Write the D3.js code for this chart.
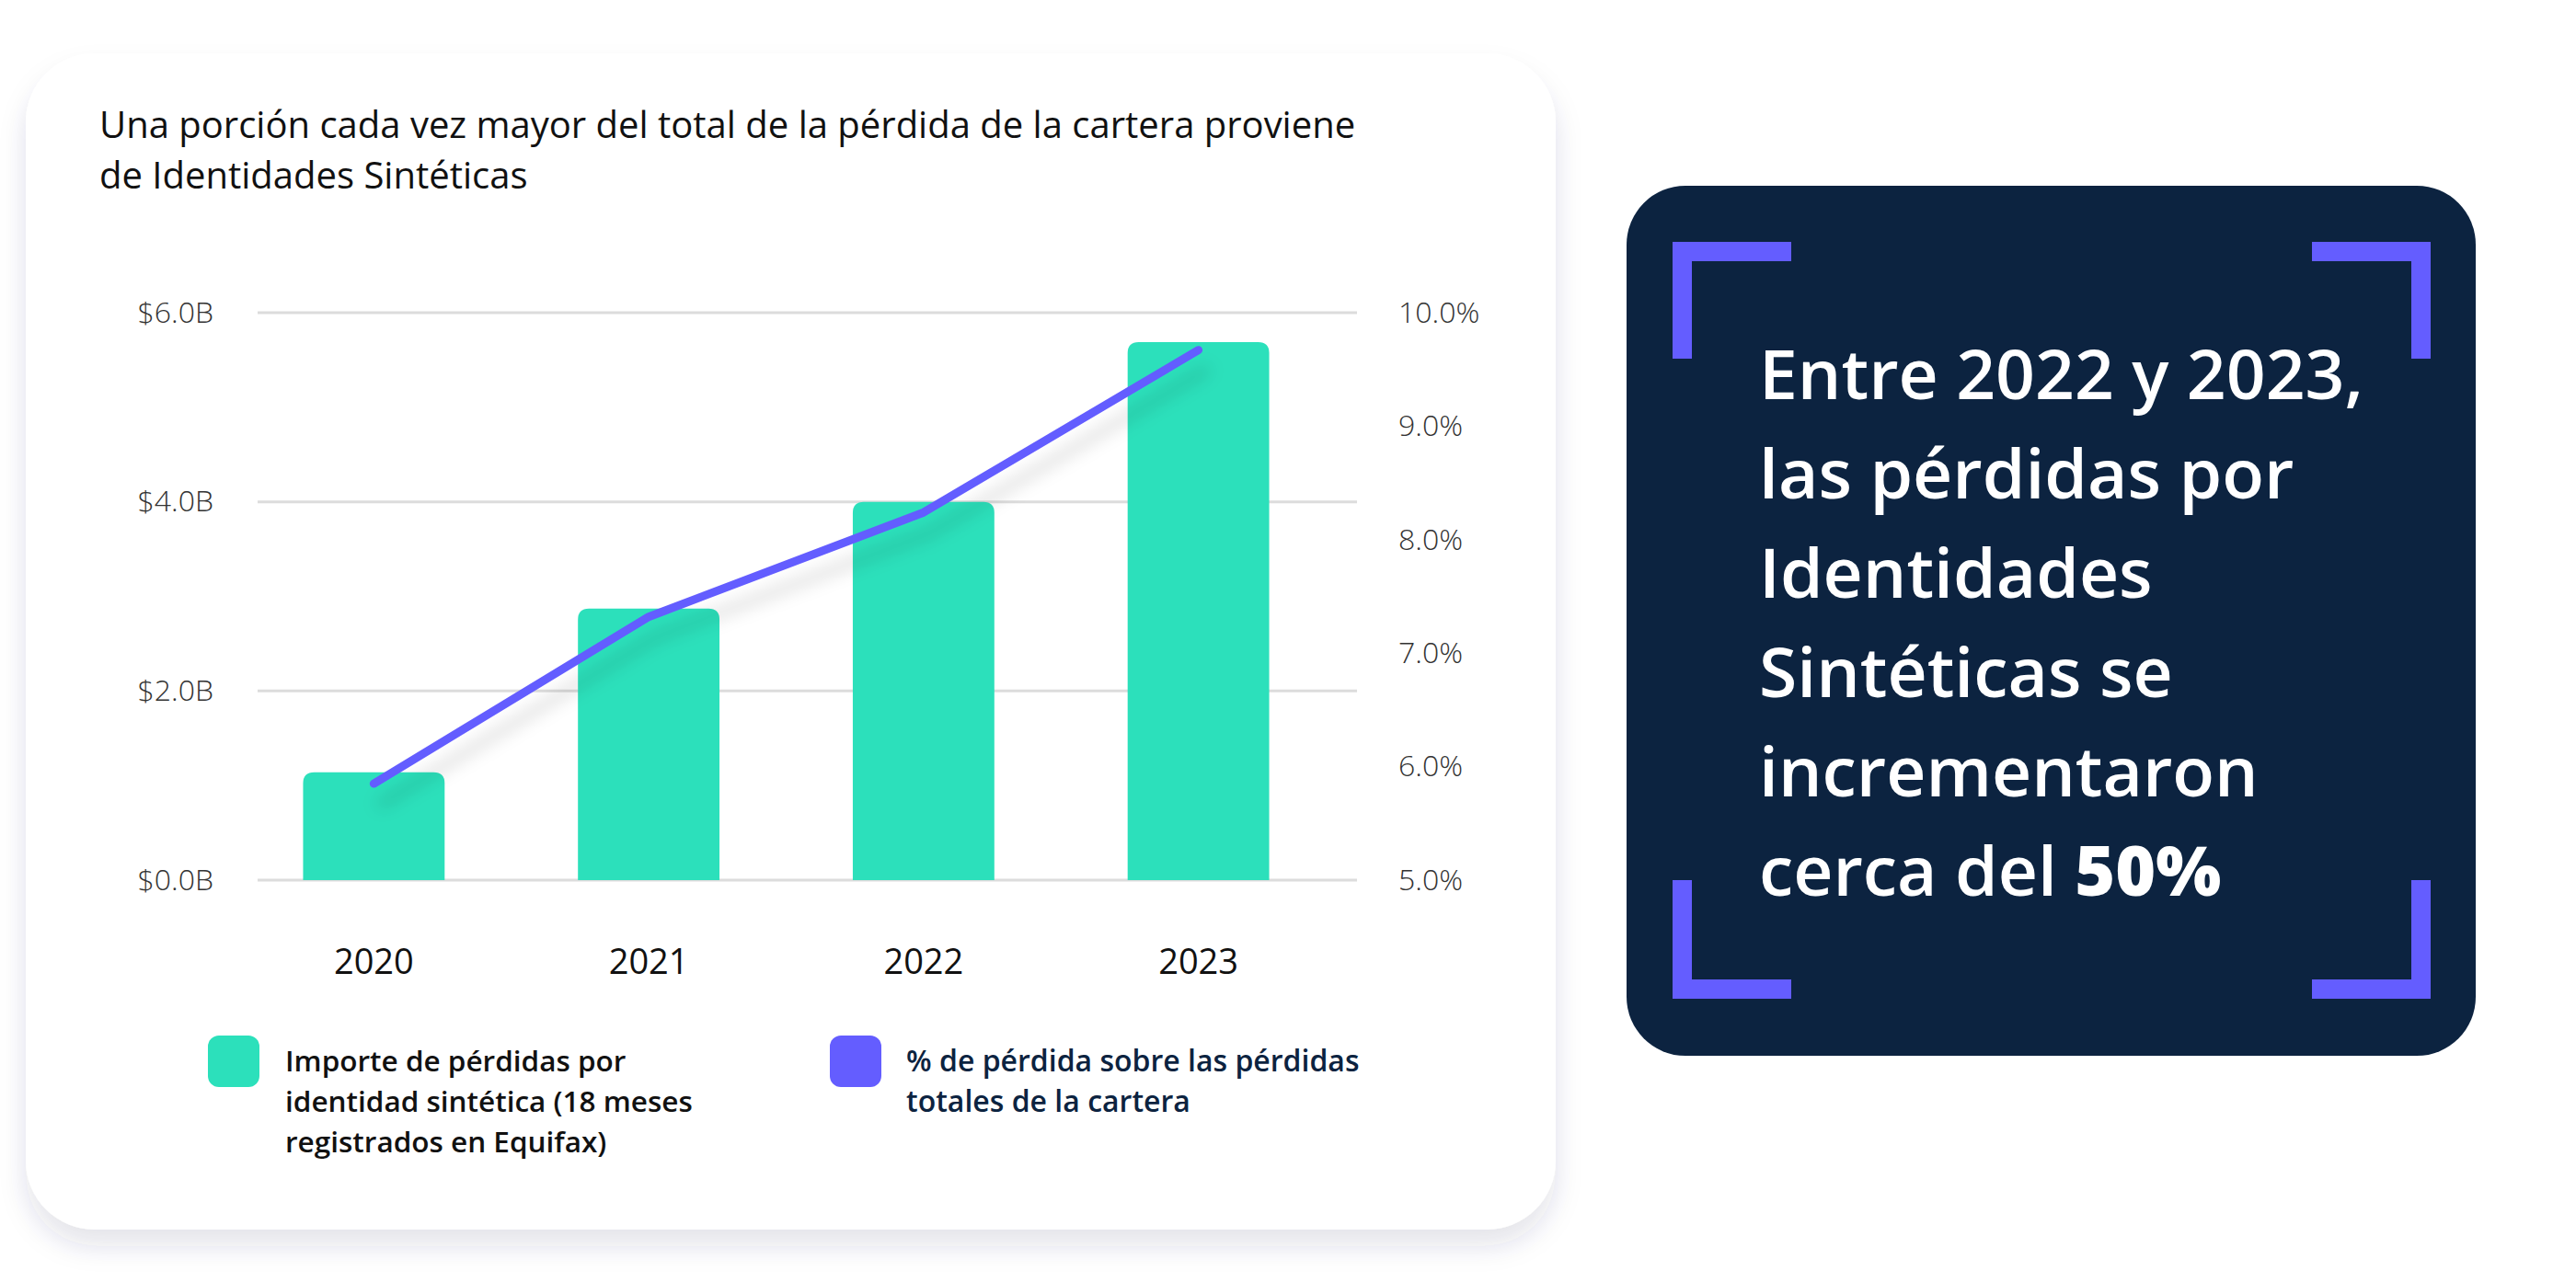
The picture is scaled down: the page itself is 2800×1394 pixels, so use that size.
<!DOCTYPE html>
<html>
<head>
<meta charset="utf-8">
<script src="https://cdn.jsdelivr.net/npm/d3@7"></script>
<style>
  html, body { margin: 0; padding: 0; background: #ffffff; }
  svg { display: block; font-family: "Open Sans", "Noto Sans", sans-serif; }
</style>
</head>
<body>
<svg id="chart" width="2800" height="1394"></svg>
<script>
// ---- data ----
const years = ["2020", "2021", "2022", "2023"];
const lossAmountB = [1.14, 2.87, 4.0, 5.69];
const lossSharePct = [5.85, 7.32, 8.24, 9.67];
const leftTicks = [0, 2, 4, 6];
const rightTicks = [5, 6, 7, 8, 9, 10];
const titleLines = ["Una porción cada vez mayor del total de la pérdida de la cartera proviene", "de Identidades Sintéticas"];
const legendBarLines = ["Importe de pérdidas por", "identidad sintética (18 meses", "registrados en Equifax)"];
const legendLineLines = ["% de pérdida sobre las pérdidas", "totales de la cartera"];
const calloutLines = ["Entre 2022 y 2023,", "las pérdidas por", "Identidades", "Sintéticas se", "incrementaron"];
const calloutLast = ["cerca del ", "50%"];

const GREEN = "#2ce0bb", PURPLE = "#645dff", NAVY = "#0c2340";

const svg = d3.select("#chart");
const defs = svg.append("defs");
const cs = defs.append("filter").attr("id", "cardShadow").attr("x", "-10%").attr("y", "-10%").attr("width", "120%").attr("height", "130%");
cs.append("feDropShadow").attr("dx", 0).attr("dy", 18).attr("stdDeviation", 14).attr("flood-color", "#2a3560").attr("flood-opacity", 0.13);
const ls = defs.append("filter").attr("id", "lineShadow").attr("x", "-20%").attr("y", "-20%").attr("width", "140%").attr("height", "160%");
ls.append("feDropShadow").attr("dx", 8).attr("dy", 22).attr("stdDeviation", 9).attr("flood-color", "#000").attr("flood-opacity", 0.15);

// ---- card ----
svg.append("rect").attr("x", 28).attr("y", 58).attr("width", 1663).attr("height", 1279)
  .attr("rx", 75).attr("fill", "#fff").attr("filter", "url(#cardShadow)");

// ---- title ----
const title = svg.append("text").attr("x", 108).attr("y", 150).attr("font-size", 40).attr("fill", "#111");
titleLines.forEach((t, i) => title.append("tspan").attr("x", 108).attr("y", 150 + i * 55).text(t));

// ---- scales ----
const x = d3.scaleBand().domain(years).range([257, 1452]).paddingInner(0.485).paddingOuter(0.2425);
const yL = d3.scaleLinear().domain([0, 6]).range([957, 340]);
const yR = d3.scaleLinear().domain([5, 10]).range([957, 340]);

// gridlines
svg.append("g").selectAll("line").data(leftTicks).join("line")
  .attr("x1", 280).attr("x2", 1475).attr("y1", d => yL(d)).attr("y2", d => yL(d))
  .attr("stroke", "#dcdcdc").attr("stroke-width", 3);

// left axis
const gL = svg.append("g").attr("transform", "translate(280,0)")
  .call(d3.axisLeft(yL).tickValues(leftTicks).tickSize(0).tickPadding(48).tickFormat(d => "$" + d.toFixed(1) + "B"));
gL.select(".domain").remove();
gL.selectAll("text").attr("font-size", 32).attr("font-weight", 300).attr("fill", "#333").attr("font-family", "'Open Sans', sans-serif");

// right axis
const gR = svg.append("g").attr("transform", "translate(1475,0)")
  .call(d3.axisRight(yR).tickValues(rightTicks).tickSize(0).tickPadding(45).tickFormat(d => d.toFixed(1) + "%"));
gR.select(".domain").remove();
gR.selectAll("text").attr("font-size", 32).attr("font-weight", 300).attr("fill", "#333").attr("font-family", "'Open Sans', sans-serif");

// bars with rounded top corners
const r = 12;
const barPath = (x0, w, yTop, yBase) =>
  `M${x0},${yBase}V${yTop + r}Q${x0},${yTop} ${x0 + r},${yTop}H${x0 + w - r}Q${x0 + w},${yTop} ${x0 + w},${yTop + r}V${yBase}Z`;
svg.append("g").selectAll("path").data(years).join("path")
  .attr("d", (d, i) => barPath(x(d), x.bandwidth(), yL(lossAmountB[i]), yL(0)))
  .attr("fill", GREEN);

// x labels
svg.append("g").selectAll("text").data(years).join("text")
  .attr("x", d => x(d) + x.bandwidth() / 2).attr("y", 1059)
  .attr("text-anchor", "middle").attr("font-size", 38).attr("fill", "#111").text(d => d);

// line
const line = d3.line().x((d, i) => x(years[i]) + x.bandwidth() / 2).y(d => yR(d));
svg.append("path").datum(lossSharePct).attr("d", line)
  .attr("fill", "none").attr("stroke", PURPLE).attr("stroke-width", 9)
  .attr("stroke-linecap", "round").attr("stroke-linejoin", "round")
  .attr("filter", "url(#lineShadow)");

// legend
svg.append("rect").attr("x", 226).attr("y", 1126).attr("width", 56).attr("height", 56).attr("rx", 12).attr("fill", GREEN);
const lt1 = svg.append("text").attr("font-size", 31.5).attr("font-weight", 600).attr("fill", "#111");
legendBarLines.forEach((t, i) => lt1.append("tspan").attr("x", 310).attr("y", 1165 + i * 44).text(t));
svg.append("rect").attr("x", 902).attr("y", 1126).attr("width", 56).attr("height", 56).attr("rx", 12).attr("fill", PURPLE);
const lt2 = svg.append("text").attr("font-size", 32).attr("font-weight", 600).attr("fill", NAVY);
legendLineLines.forEach((t, i) => lt2.append("tspan").attr("x", 985).attr("y", 1165 + i * 44).text(t));

// ---- callout panel ----
svg.append("rect").attr("x", 1768).attr("y", 202).attr("width", 923).attr("height", 946).attr("rx", 64).attr("fill", NAVY);
const bx0 = 1818, bx1 = 2642, by0 = 263, by1 = 1086, arm = 129, th = 21;
const brackets = [
  `M${bx0},${by0}h${arm}v${th}h${-(arm - th)}v${arm - 2 - th}h${-th}Z`,
  `M${bx1},${by0}h${-arm}v${th}h${arm - th}v${arm - 2 - th}h${th}Z`,
  `M${bx0},${by1}h${arm}v${-th}h${-(arm - th)}v${-(arm - th)}h${-th}Z`,
  `M${bx1},${by1}h${-arm}v${-th}h${arm - th}v${-(arm - th)}h${th}Z`
];
svg.append("g").selectAll("path").data(brackets).join("path").attr("d", d => d).attr("fill", PURPLE);

const ct = svg.append("text").attr("font-size", 75).attr("font-weight", 600).attr("fill", "#fff");
calloutLines.forEach((t, i) => ct.append("tspan").attr("x", 1912).attr("y", 434 + i * 108).text(t));
const lastLine = svg.append("text").attr("x", 1912).attr("y", 434 + 5 * 108).attr("font-size", 75).attr("font-weight", 600).attr("fill", "#fff");
lastLine.append("tspan").text(calloutLast[0]);
lastLine.append("tspan").attr("font-weight", 800).text(calloutLast[1]);
</script>
</body>
</html>
